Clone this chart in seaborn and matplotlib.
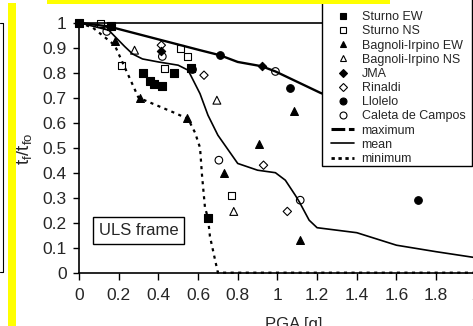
import matplotlib
matplotlib.use("Agg")
import matplotlib.pyplot as plt
import seaborn as sns
from matplotlib.lines import Line2D
from matplotlib.patches import Rectangle

# ---- data: time-to-failure ratio vs. peak ground acceleration ----
sturno_ew_pga = [0.0, 0.16, 0.325, 0.36, 0.38, 0.42, 0.48, 0.565, 0.648]
sturno_ew_ratio = [1.0, 0.985, 0.80, 0.765, 0.755, 0.745, 0.80, 0.82, 0.22]

sturno_ns_pga = [0.11, 0.215, 0.43, 0.51, 0.545, 0.77]
sturno_ns_ratio = [0.995, 0.83, 0.815, 0.895, 0.865, 0.31]

bagnoli_ew_pga = [0.18, 0.305, 0.545, 0.73, 0.905, 1.085, 1.115]
bagnoli_ew_ratio = [0.925, 0.70, 0.62, 0.40, 0.515, 0.645, 0.13]

bagnoli_ns_pga = [0.28, 0.695, 0.78]
bagnoli_ns_ratio = [0.89, 0.69, 0.245]

jma_pga = [0.415, 0.92]
jma_ratio = [0.885, 0.825]

rinaldi_pga = [0.415, 0.63, 0.93, 1.05]
rinaldi_ratio = [0.91, 0.79, 0.43, 0.245]

llolelo_pga = [0.57, 0.71, 1.065, 1.71]
llolelo_ratio = [0.815, 0.87, 0.74, 0.29]

caleta_pga = [0.14, 0.42, 0.705, 0.99, 1.115]
caleta_ratio = [0.965, 0.865, 0.45, 0.805, 0.29]

max_pga = [0.0, 0.15, 0.61, 0.71, 0.80, 0.92, 0.99, 1.215, 1.6, 2.0]
max_ratio = [1.0, 0.985, 0.89, 0.87, 0.843, 0.826, 0.805, 0.72, 0.6, 0.5]

mean_pga = [0.0, 0.15, 0.23, 0.27, 0.32, 0.40, 0.50, 0.55, 0.61, 0.65, 0.70,
            0.80, 0.90, 0.99, 1.04, 1.09, 1.11, 1.16, 1.20, 1.40, 1.60, 1.80, 2.0]
mean_ratio = [1.0, 0.97, 0.905, 0.875, 0.855, 0.843, 0.83, 0.81, 0.716, 0.63, 0.55,
              0.437, 0.41, 0.40, 0.37, 0.31, 0.284, 0.21, 0.18, 0.16, 0.11, 0.084, 0.06]

min_pga = [0.0, 0.07, 0.18, 0.30, 0.48, 0.55, 0.585, 0.61, 0.62, 0.635, 0.65, 0.66, 0.70, 2.0]
min_ratio = [1.0, 0.98, 0.91, 0.70, 0.64, 0.615, 0.56, 0.50, 0.39, 0.26, 0.22, 0.145, 0.0, 0.0]

x_ticks = [0, 0.2, 0.4, 0.6, 0.8, 1.0, 1.2, 1.4, 1.6, 1.8, 2.0]
x_tick_labels = ["0", "0.2", "0.4", "0.6", "0.8", "1", "1.2", "1.4", "1.6", "1.8", "2"]
y_ticks = [0, 0.1, 0.2, 0.3, 0.4, 0.5, 0.6, 0.7, 0.8, 0.9, 1.0]
y_tick_labels = ["0", "0.1", "0.2", "0.3", "0.4", "0.5", "0.6", "0.7", "0.8", "0.9", "1"]

# ---- style ----
sns.set_style("ticks")
plt.rcParams["font.family"] = ["Liberation Sans", "DejaVu Sans"]
plt.rcParams["mathtext.fontset"] = "custom"
plt.rcParams["mathtext.rm"] = "Liberation Sans"
plt.rcParams["mathtext.it"] = "Liberation Sans"

W, H = 473, 326
fig = plt.figure(figsize=(W / 100, H / 100), dpi=100)
fig.patch.set_facecolor("white")

x0, x1 = 79, 475.8
y_top, y_bot = 22.7, 272.7
ax = fig.add_axes([x0 / W, (H - y_bot) / H, (x1 - x0) / W, (y_bot - y_top) / H])
ax.set_facecolor("white")

# envelope curves
sns.lineplot(x=max_pga, y=max_ratio, sort=False, estimator=None, color="black",
             lw=1.7, ax=ax, zorder=2, clip_on=False)
sns.lineplot(x=mean_pga, y=mean_ratio, sort=False, estimator=None, color="black",
             lw=1.2, ax=ax, zorder=2, clip_on=False)
sns.lineplot(x=min_pga, y=min_ratio, sort=False, estimator=None, color="black",
             lw=1.6, linestyle=(0, (1.4, 2.0)), ax=ax, zorder=2, clip_on=False)

# records
records = [
    ("Sturno EW", sturno_ew_pga, sturno_ew_ratio, "s", True, 26),
    ("Sturno NS", sturno_ns_pga, sturno_ns_ratio, "s", False, 26),
    ("Bagnoli-Irpino EW", bagnoli_ew_pga, bagnoli_ew_ratio, "^", True, 32),
    ("Bagnoli-Irpino NS", bagnoli_ns_pga, bagnoli_ns_ratio, "^", False, 32),
    ("JMA", jma_pga, jma_ratio, "D", True, 18),
    ("Rinaldi", rinaldi_pga, rinaldi_ratio, "D", False, 18),
    ("Llolelo", llolelo_pga, llolelo_ratio, "o", True, 30),
    ("Caleta de Campos", caleta_pga, caleta_ratio, "o", False, 30),
]
for label, xs, ys, mk, filled, size in records:
    sns.scatterplot(x=xs, y=ys, marker=mk, s=size,
                    facecolor="black" if filled else "none",
                    edgecolor="black", linewidth=0.8, ax=ax, zorder=3, clip_on=False)

ax.set_xlim(0, 2.0)
ax.set_ylim(0, 1.0)
ax.set_xticks(x_ticks)
ax.set_xticklabels(x_tick_labels)
ax.set_yticks(y_ticks)
ax.set_yticklabels(y_tick_labels)
ax.tick_params(axis="x", direction="out", length=5, width=1, labelsize=12.5, pad=6, color="black")
ax.tick_params(axis="y", direction="out", length=4, width=1, labelsize=12.5, pad=5, color="black")
for side in ["left", "bottom", "top"]:
    ax.spines[side].set_visible(True)
    ax.spines[side].set_color("black")
    ax.spines[side].set_linewidth(1.2)
ax.spines["right"].set_visible(False)

ax.set_xlabel("PGA [g]", fontsize=12)
ax.xaxis.set_label_coords((294 - x0) / (x1 - x0), (y_bot - 317) / (y_bot - y_top))
ax.set_ylabel(r"$\mathrm{t_f/t_{fo}}$", fontsize=13.5)
ax.yaxis.set_label_coords((34 - x0) / (x1 - x0), (y_bot - 149) / (y_bot - y_top))

ax.text(0.30, 0.169, "ULS frame", fontsize=12, ha="center", va="center",
        bbox=dict(boxstyle="square,pad=0.35", fc="white", ec="black", lw=1), zorder=4)

# legend: frame (with a thin drop shadow) drawn as its own box, entries placed inside it
legend_shadow = Rectangle((323.2 / W, (H - 167.2) / H), 150 / W, 170 / H,
                          transform=fig.transFigure, facecolor="black", edgecolor="none",
                          zorder=4.7, clip_on=False)
ax.add_artist(legend_shadow)
legend_box = Rectangle((322 / W, (H - 166) / H), 150 / W, 170 / H, transform=fig.transFigure,
                       facecolor="white", edgecolor="black", lw=1.0, zorder=4.8, clip_on=False)
ax.add_artist(legend_box)

handles = []
for label, xs, ys, mk, filled, size in records:
    handles.append(Line2D([], [], ls="none", marker=mk, ms=5 if mk != "D" else 4,
                          mfc="black" if filled else "none", mec="black", mew=0.8,
                          label=label))
handles.append(Line2D([], [], color="black", lw=2.2, linestyle=(0, (4.5, 1.2)), label="maximum"))
handles.append(Line2D([], [], color="black", lw=1.2, label="mean"))
handles.append(Line2D([], [], color="black", lw=2.0, linestyle=(0, (1.2, 1.3)), label="minimum"))
leg = ax.legend(handles=handles, loc="lower left",
                bbox_to_anchor=(331 / W, (H - 165) / H), bbox_transform=fig.transFigure,
                borderaxespad=0, borderpad=0, fontsize=9, frameon=False,
                handlelength=1.85, handletextpad=0.6, labelspacing=0.175)
leg.set_zorder(5)

# page decorations around the chart
fig.patches.append(Rectangle((8 / W, 0), 8 / W, (H - 3) / H, transform=fig.transFigure,
                             facecolor="#ffff00", edgecolor="none", zorder=10))
fig.patches.append(Rectangle((47 / W, (H - 4) / H), (390 - 47) / W, 4 / H,
                             transform=fig.transFigure, facecolor="#ffff00",
                             edgecolor="none", zorder=10))
fig.lines.append(Line2D([2.7 / W, 2.7 / W], [(H - 23) / H, (H - 272) / H],
                        transform=fig.transFigure, color="black", lw=0.8))
fig.lines.append(Line2D([0, 2.7 / W], [(H - 23) / H, (H - 23) / H],
                        transform=fig.transFigure, color="black", lw=0.8))
fig.lines.append(Line2D([0, 2.7 / W], [(H - 272) / H, (H - 272) / H],
                        transform=fig.transFigure, color="black", lw=0.8))

fig.savefig("out.png", dpi=100)
